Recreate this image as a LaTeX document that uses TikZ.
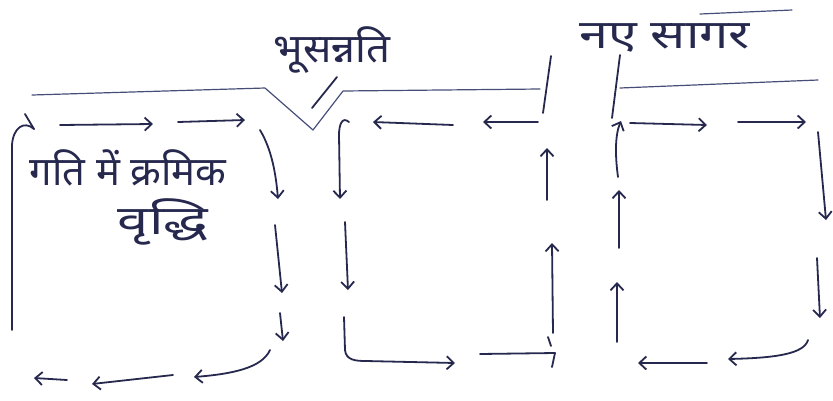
\documentclass[tikz,border=0pt]{standalone}
\usepackage{fontspec}
\newfontfamily\deva[Script=Devanagari]{Noto Sans}
\usetikzlibrary{arrows.meta}
\definecolor{ink}{RGB}{38,40,78}
\definecolor{inkl}{RGB}{70,78,120}
\tikzset{
  pen/.style={draw=ink, line width=1.8pt, line cap=round, line join=round},
  thin/.style={draw=inkl, line width=1.2pt, line cap=round, line join=round},
  arr/.style={pen, -{Straight Barb[length=7pt,width=13pt]}},
  lbl/.style={font=\deva\fontsize{40}{44}\selectfont, text=ink, inner sep=0pt}
}
\begin{document}
\begin{tikzpicture}[x=1pt,y=-1pt]
\useasboundingbox (0,0) rectangle (833,400);
% labels
\node[lbl, xscale=1.05] (geo) at (332,50) {भूसन्नति};
\node[lbl, xscale=1.3] (sea) at (665,38) {नए सागर};
\node[lbl] (t1) at (128,168) {गति में क्रमिक};
\node[lbl, xscale=1.4] (t2) at (163,222) {वृद्धि};
% surface lines, V and cracks
\draw[thin] (32,95) -- (265,88) -- (313,130) -- (343,91) -- (540,89);
\draw[pen] (337,77) -- (312,108);
\draw[pen] (551,56) -- (543,113);
\draw[pen] (620,55) -- (612,118);
\draw[thin] (620,88) -- (818,80);
\draw[thin] (700,14) -- (792,10);
% left cell
\draw[pen] (12,330) -- (12,145) .. controls (13,128) and (24,120) .. (34,129);
\draw[pen] (25,114) -- (34,129);
\draw[arr] (60,125) -- (153,124);
\draw[arr] (178,122) -- (245,120);
\draw[arr] (260,130) .. controls (272,150) and (276,175) .. (278,199);
\draw[arr] (275,225) -- (282,293);
\draw[arr] (280,313) -- (283,341);
\draw[arr] (270,350) .. controls (262,368) and (232,374) .. (194,377);
\draw[arr] (173,375) -- (92,384);
\draw[arr] (67,380) -- (34,378);
% middle cell
\draw[arr] (538,122) -- (483,122);
\draw[arr] (453,125) -- (373,122);
\draw[arr] (349,122) .. controls (342,116) and (339,125) .. (339,135) -- (340,199);
\draw[arr] (345,222) -- (348,290);
\draw[arr] (344,317) -- (345,350) .. controls (346,360) and (355,361) .. (366,361) -- (455,363);
\draw[pen] (480,354) -- (555,353) -- (552,367);
\draw[pen] (548,337) -- (551,346);
\draw[arr] (553,333) -- (552,243);
\draw[arr] (547,200) -- (547,148);
% right cell
\draw[arr] (617,342) -- (617,282);
\draw[arr] (619,248) -- (619,190);
\draw[arr] (618,177) .. controls (615,155) and (615,135) .. (621,121);
\draw[arr] (630,123) -- (707,125);
\draw[arr] (738,122) -- (806,122);
\draw[arr] (818,132) -- (826,220);
\draw[arr] (817,258) -- (820,318);
\draw[arr] (808,340) .. controls (804,354) and (775,358) .. (728,359);
\draw[arr] (707,363) -- (638,363);
\end{tikzpicture}
\end{document}
